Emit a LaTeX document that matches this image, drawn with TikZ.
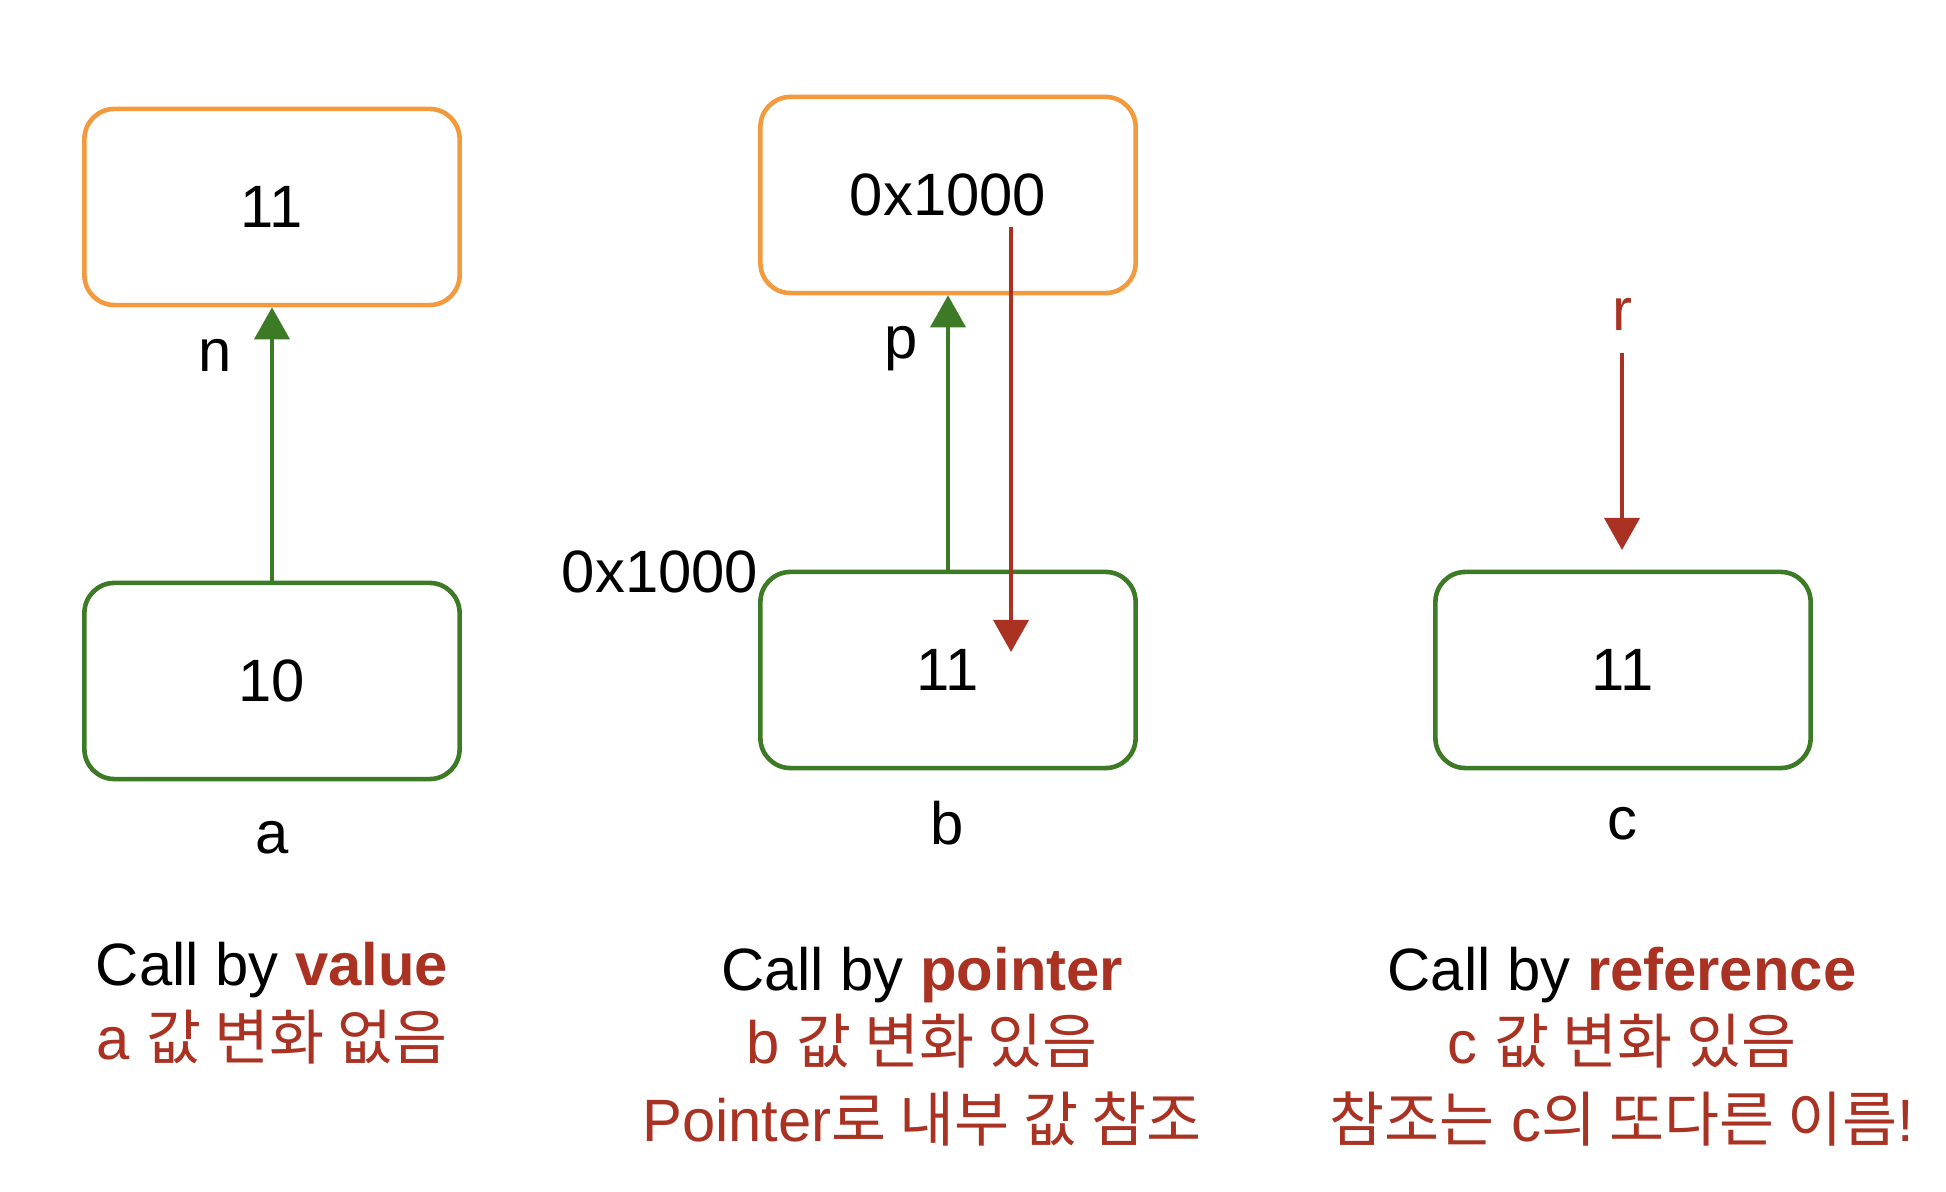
\documentclass[tikz,border=0pt]{standalone}
\usepackage{fontspec}
\setmainfont{Liberation Sans}
\newfontfamily\kr{Noto Sans CJK KR}
\usetikzlibrary{arrows.meta}
\definecolor{memorange}{HTML}{F29A3D}
\definecolor{memgreen}{HTML}{3D7A25}
\definecolor{memred}{HTML}{A93222}
\begin{document}
\begin{tikzpicture}[x=0.01cm, y=-0.01cm, every node/.style={font=\fontsize{17}{20}\selectfont}]

    \tikzstyle{cell} = [draw, rounded corners=0.3cm, line width=1.3pt, minimum width=3.75cm, minimum height=1.96cm]
    \tikzstyle{heap} = [cell, draw=memorange]
    \tikzstyle{stack} = [cell, draw=memgreen]
    \tikzstyle{greenarr} = [memgreen, line width=1.1pt, -{Triangle[width=0.35cm, length=0.32cm]}]
    \tikzstyle{redarr} = [memred, line width=1.1pt, -{Triangle[width=0.35cm, length=0.32cm]}]
    \tikzstyle{note} = [text=memred]

    \useasboundingbox (0,0) rectangle (1946,1192);

    % call by value
    \node[heap] (nval) at (272,207) {11};
    \node[stack] (aval) at (272,681) {10};
    \node (n) at (215,355) {n};
    \node (a) at (272,838) {a};
    \draw[greenarr] (aval) -- (nval);

    \node (valtitle) at (272,970) {Call by \textcolor{memred}{\textbf{value}}};
    \node[note] (valnote) at (272,1037) {a {\kr 값 변화 없음}};

    % call by pointer
    \node[heap] (pval) at (948,195) {0x1000};
    \node[stack] (bval) at (948,670) {11};
    \node (p) at (901,349) {p};
    \node (baddr) at (660,572) {0x1000};
    \node (b) at (947,823) {b};
    \draw[greenarr] (bval) -- (pval);

    \coordinate (deref) at (1011,227);
    \coordinate (derefend) at (1011,652);
    \draw[redarr] (deref) -- (derefend);

    \node (ptrtitle) at (922,975) {Call by \textcolor{memred}{\textbf{pointer}}};
    \node[note] (ptrnote) at (922,1041) {b {\kr 값 변화 있음}};
    \node[note] (ptrnote2) at (922,1119) {Pointer{\kr 로 내부 값 참조}};

    % call by reference
    \node[note] (r) at (1622,314) {r};
    \coordinate (rend) at (1622,550);
    \draw[redarr, shorten <=1mm] (r) -- (rend);
    \node[stack] (cval) at (1623,670) {11};
    \node (c) at (1622,824) {c};

    \node (reftitle) at (1622,975) {Call by \textcolor{memred}{\textbf{reference}}};
    \node[note] (refnote) at (1622,1041) {c {\kr 값 변화 있음}};
    \node[note] (refnote2) at (1622,1119) {{\kr 참조는} c{\kr 의 또다른 이름}!};

\end{tikzpicture}
\end{document}
